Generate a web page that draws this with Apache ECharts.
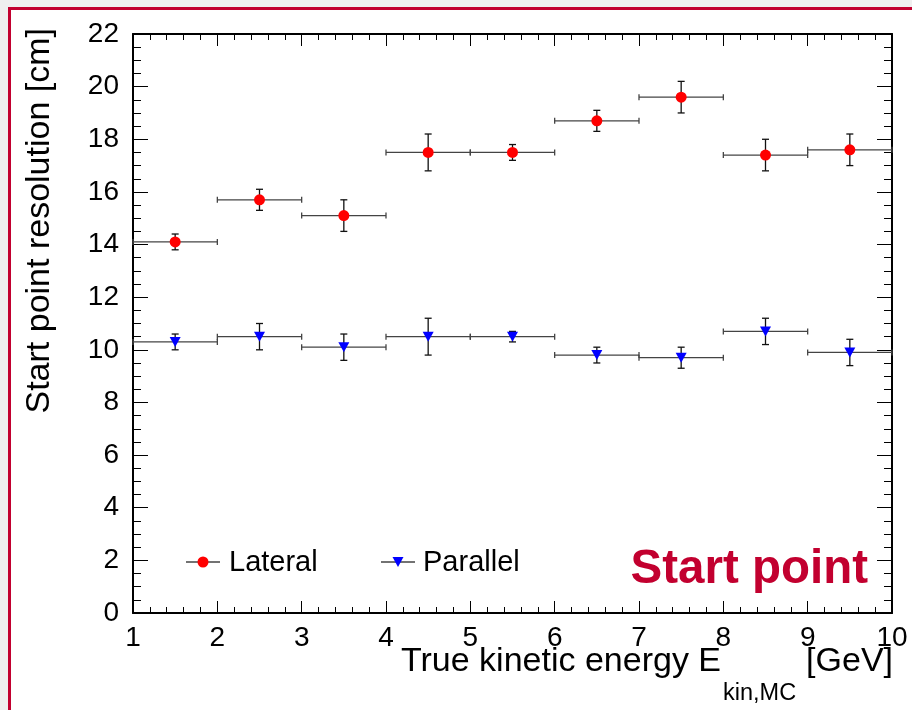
<!DOCTYPE html>
<html>
<head>
<meta charset="utf-8">
<title>Start point resolution</title>
<script src="https://cdn.jsdelivr.net/npm/echarts@6/dist/echarts.min.js"></script>
<style>
  html, body { margin: 0; padding: 0; background: #efefef; }
  #chart { width: 912px; height: 710px; }
</style>
</head>
<body>
<div id="chart"></div>
<script>
// Energy bins [GeV]: lower and upper edges
const binLow  = [1, 2, 3, 4, 5, 6, 7, 8, 9];
const binHigh = [2, 3, 4, 5, 6, 7, 8, 9, 10];

// Lateral resolution [cm] and its uncertainty
const lateral    = [14.1, 15.7, 15.1, 17.5, 17.5, 18.7, 19.6, 17.4, 17.6];
const lateralErr = [0.3, 0.4, 0.6, 0.7, 0.3, 0.4, 0.6, 0.6, 0.6];

// Parallel resolution [cm] and its uncertainty
const parallel    = [10.3, 10.5, 10.1, 10.5, 10.5, 9.8, 9.7, 10.7, 9.9];
const parallelErr = [0.3, 0.5, 0.5, 0.7, 0.2, 0.3, 0.4, 0.5, 0.5];

// Axis tick labels
const xTicks = [1, 2, 3, 4, 5, 6, 7, 8, 9, 10];
const yTicks = [0, 2, 4, 6, 8, 10, 12, 14, 16, 18, 20, 22];

const FONT = '"Liberation Sans", Arial, Helvetica, sans-serif';
const CRIMSON = '#c2002f';

const chart = echarts.init(document.getElementById('chart'), null, { renderer: 'canvas' });

function centers() {
  return binLow.map((lo, i) => (lo + binHigh[i]) / 2);
}

function errorData(vals, errs) {
  return vals.map((v, i) => [binLow[i], binHigh[i], v, errs[i]]);
}

function pointData(vals) {
  const c = centers();
  return vals.map((v, i) => [c[i], v]);
}

// Bin-width bar plus vertical uncertainty, with small end caps
function renderErr(params, api) {
  const lo = api.value(0), hi = api.value(1), y = api.value(2), e = api.value(3);
  const mid = (lo + hi) / 2;
  const pL = api.coord([lo, y]);
  const pR = api.coord([hi, y]);
  const pT = api.coord([mid, y + e]);
  const pB = api.coord([mid, y - e]);
  const hc = 3, vc = 3.5;
  const hStyle = { stroke: '#444', lineWidth: 1.3 };
  const vStyle = { stroke: '#111', lineWidth: 1.3 };
  return {
    type: 'group',
    children: [
      { type: 'line', shape: { x1: pL[0], y1: pL[1], x2: pR[0], y2: pR[1] }, style: hStyle },
      { type: 'line', shape: { x1: pL[0], y1: pL[1] - hc, x2: pL[0], y2: pL[1] + hc }, style: hStyle },
      { type: 'line', shape: { x1: pR[0], y1: pR[1] - hc, x2: pR[0], y2: pR[1] + hc }, style: hStyle },
      { type: 'line', shape: { x1: pT[0], y1: pT[1], x2: pB[0], y2: pB[1] }, style: vStyle },
      { type: 'line', shape: { x1: pT[0] - vc, y1: pT[1], x2: pT[0] + vc, y2: pT[1] }, style: vStyle },
      { type: 'line', shape: { x1: pB[0] - vc, y1: pB[1], x2: pB[0] + vc, y2: pB[1] }, style: vStyle }
    ]
  };
}

function xAxisDef(pos, showLabels) {
  return {
    type: 'value', position: pos, min: xTicks[0], max: xTicks[xTicks.length - 1], interval: 1,
    axisLine: { show: true, onZero: false, lineStyle: { color: '#000', width: 2 } },
    axisTick: { show: true, inside: true, length: 12, lineStyle: { color: '#000', width: 1 } },
    minorTick: { show: true, splitNumber: 5, length: 6, lineStyle: { color: '#000', width: 1 } },
    splitLine: { show: false },
    axisLabel: { show: showLabels, fontSize: 28, color: '#000', fontFamily: FONT, margin: 11 }
  };
}

function yAxisDef(pos, showLabels) {
  return {
    type: 'value', position: pos, min: yTicks[0], max: yTicks[yTicks.length - 1], interval: 2,
    axisLine: { show: true, onZero: false, lineStyle: { color: '#000', width: 2 } },
    axisTick: { show: true, inside: true, length: 15, lineStyle: { color: '#000', width: 1 } },
    minorTick: { show: true, splitNumber: 4, length: 8, lineStyle: { color: '#000', width: 1 } },
    splitLine: { show: false },
    axisLabel: { show: showLabels, fontSize: 28, color: '#000', fontFamily: FONT, margin: 14 }
  };
}

const option = {
  animation: false,
  backgroundColor: 'transparent',
  grid: { left: 133, top: 34, right: 20, bottom: 97, containLabel: false },
  xAxis: [xAxisDef('bottom', true), xAxisDef('top', false)],
  yAxis: [yAxisDef('left', true), yAxisDef('right', false)],
  graphic: [
    // outer frame
    { type: 'rect', z: -10, silent: true,
      shape: { x: 9.5, y: 8.5, width: 1000, height: 1000 },
      style: { fill: '#fff', stroke: CRIMSON, lineWidth: 3 } },
    // y-axis title
    { type: 'text', x: 40, y: 28, rotation: Math.PI / 2,
      style: { text: 'Start point resolution [cm]', font: '34px ' + FONT, fill: '#000',
               align: 'right', verticalAlign: 'middle' } },
    // x-axis title with subscript
    { type: 'text', x: 721, y: 662,
      style: { text: 'True kinetic energy E', font: '34px ' + FONT, fill: '#000',
               align: 'right', verticalAlign: 'middle' } },
    { type: 'text', x: 723, y: 694,
      style: { text: 'kin,MC', font: '23.5px ' + FONT, fill: '#000',
               align: 'left', verticalAlign: 'middle' } },
    { type: 'text', x: 893, y: 662,
      style: { text: '[GeV]', font: '34px ' + FONT, fill: '#000',
               align: 'right', verticalAlign: 'middle' } },
    // plot label
    { type: 'text', x: 868, y: 570,
      style: { text: 'Start point', font: 'bold 47.5px ' + FONT, fill: CRIMSON,
               align: 'right', verticalAlign: 'middle' } },
    // legend: Lateral
    { type: 'line', shape: { x1: 186, y1: 562, x2: 220, y2: 562 }, style: { stroke: '#444', lineWidth: 1.3 } },
    { type: 'circle', shape: { cx: 203, cy: 562, r: 5.5 }, style: { fill: '#ff0000' } },
    { type: 'text', x: 229, y: 563,
      style: { text: 'Lateral', font: '29px ' + FONT, fill: '#000', align: 'left', verticalAlign: 'middle' } },
    // legend: Parallel
    { type: 'line', shape: { x1: 381, y1: 562, x2: 415, y2: 562 }, style: { stroke: '#444', lineWidth: 1.3 } },
    { type: 'polygon', shape: { points: [[392.5, 557], [403.5, 557], [398, 567]] }, style: { fill: '#0000ff' } },
    { type: 'text', x: 423, y: 563,
      style: { text: 'Parallel', font: '29px ' + FONT, fill: '#000', align: 'left', verticalAlign: 'middle' } }
  ],
  series: [
    { name: 'Lateral err', type: 'custom', xAxisIndex: 0, yAxisIndex: 0, z: 2,
      renderItem: renderErr, data: errorData(lateral, lateralErr), silent: true },
    { name: 'Parallel err', type: 'custom', xAxisIndex: 0, yAxisIndex: 0, z: 2,
      renderItem: renderErr, data: errorData(parallel, parallelErr), silent: true },
    { name: 'Lateral', type: 'scatter', xAxisIndex: 0, yAxisIndex: 0, z: 3,
      symbol: 'circle', symbolSize: 11, itemStyle: { color: '#ff0000', opacity: 1 },
      data: pointData(lateral) },
    { name: 'Parallel', type: 'scatter', xAxisIndex: 0, yAxisIndex: 0, z: 3,
      symbol: 'triangle', symbolRotate: 180, symbolSize: [11, 10], itemStyle: { color: '#0000ff', opacity: 1 },
      data: pointData(parallel) }
  ]
};

chart.setOption(option);
</script>
</body>
</html>
